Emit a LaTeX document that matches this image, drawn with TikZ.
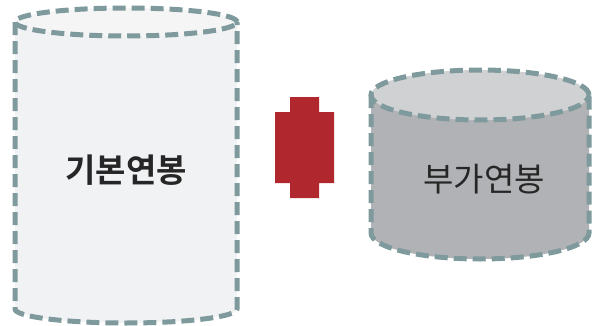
\documentclass[tikz,border=0pt]{standalone}
\usepackage{fontspec}
\newfontfamily\krfont{Noto Sans CJK KR}
\newfontfamily\krbold{Noto Sans CJK KR Bold}
\definecolor{edgec}{HTML}{7F9A9D}
\definecolor{lbody}{HTML}{F1F2F4}
\definecolor{ltop}{HTML}{F5F5F6}
\definecolor{rbody}{HTML}{B1B2B5}
\definecolor{rtop}{HTML}{D0D1D3}
\definecolor{redc}{HTML}{B0272D}
\tikzset{
  cyledge/.style={draw=edgec, line width=5pt, dash pattern=on 13pt off 6pt},
  cyltext/.style={inner sep=0pt, text=black!85}
}
\begin{document}
\begin{tikzpicture}[x=1pt,y=1pt]
\useasboundingbox (0,0) rectangle (592,325);
\clip (0,0) rectangle (592,325);
% left cylinder
\fill[lbody] (15,303) -- (15,16) arc[start angle=180,end angle=360,x radius=111,y radius=14] -- (237,303) -- cycle;
\fill[ltop] (126,303) ellipse[x radius=111,y radius=14];
\draw[cyledge] (15,303) -- (15,16) arc[start angle=180,end angle=360,x radius=111,y radius=14] -- (237,303);
\draw[cyledge] (126,303) ellipse[x radius=111,y radius=14];
\node[cyltext, font=\krbold\fontsize{33}{36}\selectfont] (base) at (126,155) {기본연봉};
% right cylinder
\fill[rbody] (371,230) -- (371,92) arc[start angle=180,end angle=360,x radius=109,y radius=26] -- (589,230) -- cycle;
\fill[rtop] (480,230) ellipse[x radius=109,y radius=25];
\draw[cyledge] (371,230) -- (371,92) arc[start angle=180,end angle=360,x radius=109,y radius=26] -- (589,230);
\draw[cyledge] (480,230) ellipse[x radius=109,y radius=25];
\node[cyltext, font=\krfont\fontsize{33}{36}\selectfont] (extra) at (484,146) {부가연봉};
% red shape
\fill[redc] (290,228) -- (319,228) -- (319,213) -- (334,213) -- (334,142) -- (319,142) -- (319,127) -- (290,127) -- (290,142) -- (275,142) -- (275,213) -- (290,213) -- cycle;
\end{tikzpicture}
\end{document}
